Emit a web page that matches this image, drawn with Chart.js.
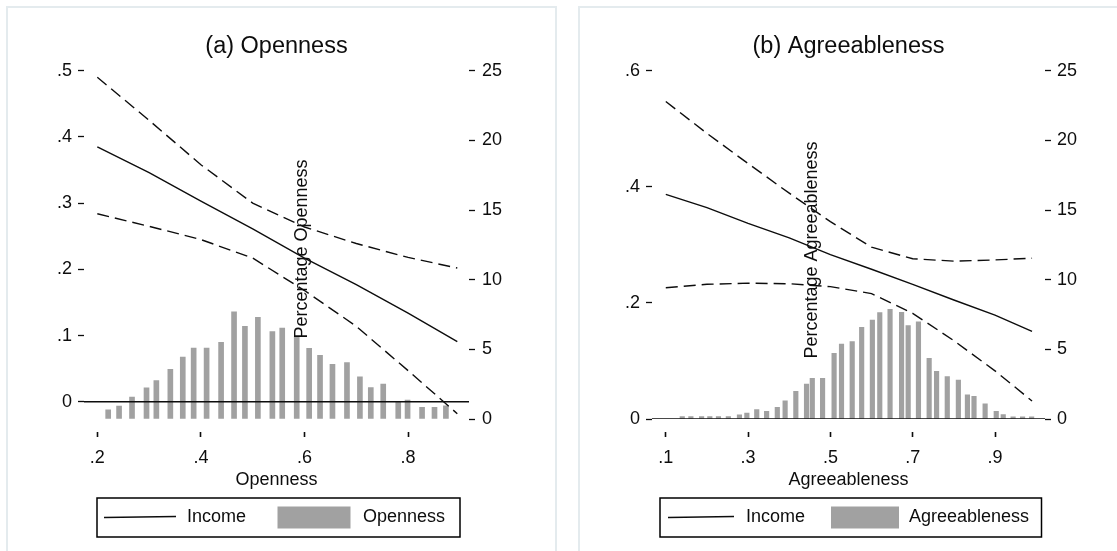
<!DOCTYPE html>
<html>
<head>
<meta charset="utf-8">
<script src="https://cdn.jsdelivr.net/npm/chart.js@4.4.1/dist/chart.umd.min.js"></script>
<style>
  html, body { margin: 0; padding: 0; background: #fff; overflow: hidden; }
  #page { position: relative; width: 1117px; height: 551px; overflow: hidden; }
  .panel { position: absolute; top: 6px; height: 600px; border: 2px solid #e4ebee; box-sizing: border-box; }
  canvas { position: absolute; top: 0; }
</style>
</head>
<body>
<div id="page">
  <div class="panel" style="left:6px;width:551px"></div>
  <div class="panel" style="left:578px;width:551px"></div>
  <canvas id="chartA" width="558" height="551" style="left:0"></canvas>
  <canvas id="chartB" width="559" height="551" style="left:558px"></canvas>
</div>
<script>
// (a) Openness: predicted income with confidence band, plus share of respondents
const openX = [0.2, 0.3, 0.4, 0.5, 0.6, 0.7, 0.8, 0.895];
const openIncome = [0.385, 0.346, 0.303, 0.261, 0.217, 0.177, 0.134, 0.091];
const openUpper = [0.490, 0.425, 0.358, 0.300, 0.264, 0.239, 0.218, 0.202];
const openLower = [0.284, 0.265, 0.245, 0.217, 0.168, 0.114, 0.047, -0.018];
const openBins = [0.221, 0.242, 0.267, 0.295, 0.314, 0.341, 0.365, 0.386, 0.411, 0.439,
  0.464, 0.485, 0.510, 0.538, 0.557, 0.585, 0.609, 0.630, 0.654, 0.682,
  0.707, 0.728, 0.752, 0.781, 0.799, 0.827, 0.851, 0.873];
const openPct = [0.66, 0.93, 1.57, 2.24, 2.76, 3.57, 4.45, 5.09, 5.09, 5.5,
  7.7, 6.66, 7.3, 6.28, 6.52, 5.9, 5.07, 4.57, 3.93, 4.05,
  3.02, 2.26, 2.5, 1.19, 1.36, 0.83, 0.83, 0.95];

// (b) Agreeableness
const agreeX = [0.1, 0.2, 0.3, 0.4, 0.5, 0.6, 0.7, 0.8, 0.9, 0.99];
const agreeIncome = [0.387, 0.364, 0.337, 0.312, 0.283, 0.258, 0.232, 0.205, 0.179, 0.151];
const agreeUpper = [0.547, 0.492, 0.440, 0.389, 0.340, 0.296, 0.276, 0.272, 0.274, 0.277];
const agreeLower = [0.226, 0.232, 0.234, 0.233, 0.228, 0.216, 0.182, 0.135, 0.083, 0.031];
const agreeBins = [0.140, 0.161, 0.187, 0.207, 0.228, 0.252, 0.279, 0.297, 0.321, 0.345,
  0.371, 0.390, 0.416, 0.442, 0.456, 0.481, 0.509, 0.527, 0.553, 0.576,
  0.602, 0.620, 0.645, 0.673, 0.689, 0.714, 0.740, 0.758, 0.784, 0.811,
  0.833, 0.849, 0.876, 0.903, 0.920, 0.944, 0.967, 0.989];
const agreePct = [0.17, 0.17, 0.17, 0.17, 0.17, 0.17, 0.3, 0.43, 0.67, 0.55,
  0.84, 1.31, 1.99, 2.51, 2.92, 2.92, 4.71, 5.38, 5.55, 6.58,
  7.1, 7.63, 7.87, 7.65, 6.7, 6.98, 4.35, 3.42, 3.04, 2.8,
  1.74, 1.63, 1.08, 0.55, 0.31, 0.15, 0.15, 0.15];

// tick labels
const openTicksX = [0.2, 0.4, 0.6, 0.8];
const openTicksY = [0, 0.1, 0.2, 0.3, 0.4, 0.5];
const agreeTicksX = [0.1, 0.3, 0.5, 0.7, 0.9];
const agreeTicksY = [0, 0.2, 0.4, 0.6];
const pctTicks = [0, 5, 10, 15, 20, 25];

const FONT = '"Liberation Sans", Arial, sans-serif';
const ink = '#0d0d0d';
const barGray = '#a1a1a1';

Chart.defaults.font.family = FONT;
Chart.defaults.font.size = 18;
Chart.defaults.color = ink;

function pts(xs, ys) {
  return xs.map((x, i) => ({ x: x, y: ys[i] }));
}

// stata style: .2 instead of 0.2
function dotNum(v) {
  if (v === 0) return '0';
  return String(+v.toFixed(2)).replace(/^0\./, '.');
}

// rotated axis title that stata drops in the middle of the plot
const sideTitle = {
  id: 'sideTitle',
  afterDatasetsDraw(chart, args, o) {
    const ctx = chart.ctx;
    ctx.save();
    ctx.translate(o.x, o.y);
    ctx.rotate(-Math.PI / 2);
    ctx.font = '18px ' + FONT;
    ctx.fillStyle = ink;
    ctx.textAlign = 'center';
    ctx.textBaseline = 'middle';
    ctx.fillText(o.text, 0, 0);
    ctx.restore();
  }
};

// boxed legend under the axis
const boxLegend = {
  id: 'boxLegend',
  afterDraw(chart, args, o) {
    const ctx = chart.ctx;
    const [bx, by, bw, bh] = o.box;
    const cy = by + bh / 2;
    ctx.save();
    ctx.strokeStyle = '#000';
    ctx.lineWidth = 1.5;
    ctx.strokeRect(bx, by, bw, bh);
    ctx.font = '18px ' + FONT;
    ctx.textBaseline = 'middle';
    ctx.fillStyle = ink;
    o.items.forEach(it => {
      const ds = chart.data.datasets[it.ds];
      if (ds.type === 'line') {
        ctx.strokeStyle = ds.borderColor;
        ctx.lineWidth = ds.borderWidth;
        ctx.beginPath();
        ctx.moveTo(it.x, cy);
        ctx.lineTo(it.x + it.w, cy - 1);
        ctx.stroke();
      } else {
        ctx.fillStyle = ds.backgroundColor;
        ctx.fillRect(it.x, cy - it.h / 2, it.w, it.h);
        ctx.fillStyle = ink;
      }
      ctx.fillText(ds.label, it.tx, cy);
    });
    ctx.restore();
  }
};

function lineSet(label, data, dash, order) {
  return {
    type: 'line', label: label, data: data, yAxisID: 'yL',
    borderColor: ink, borderWidth: 1.4, borderDash: dash,
    pointRadius: 0, tension: 0, fill: false, order: order
  };
}

function tickGrid(len) {
  return { display: true, drawOnChartArea: false, drawTicks: true, tickLength: len, tickWidth: 1.3, tickColor: ink };
}

function makeChart(id, p) {
  return new Chart(document.getElementById(id), {
    type: 'bar',
    data: {
      datasets: [
        { type: 'bar', label: p.name, data: pts(p.bins, p.pct), yAxisID: 'yR',
          backgroundColor: barGray, borderWidth: 0, barThickness: p.barW, order: 4 },
        lineSet('Income', pts(p.x, p.income), [], 1),
        lineSet('upper', pts(p.x, p.upper), [12, 6], 1),
        lineSet('lower', pts(p.x, p.lower), [12, 6], 1),
        lineSet('zero', [{ x: p.xMin, y: 0 }, { x: p.xMax, y: 0 }], [], 2)
      ]
    },
    options: {
      responsive: false,
      animation: false,
      events: [],
      layout: { padding: { left: 0, right: 0, top: 0, bottom: 52 } },
      plugins: {
        legend: { display: false },
        tooltip: { enabled: false },
        title: {
          display: true, text: p.title, fullSize: false, color: ink,
          font: { size: 23.5, weight: 'normal' },
          padding: { top: 32, bottom: 10.5 }
        },
        sideTitle: p.side,
        boxLegend: p.legend
      },
      scales: {
        x: {
          type: 'linear', position: 'bottom', min: p.xMin, max: p.xMax, offset: false,
          afterBuildTicks: s => { s.ticks = p.xTicks.map(v => ({ value: v })); },
          afterFit: s => { s.height = 80; },
          grid: Object.assign(tickGrid(18), { offset: false, tickWidth: 1.6, tickBorderDash: [0, 13, 5, 100] }),
          border: { display: false },
          ticks: { padding: 10, maxRotation: 0, autoSkip: false, callback: dotNum },
          title: { display: true, text: p.name, padding: { top: 0, bottom: 8.5 } }
        },
        yL: {
          type: 'linear', position: 'left', min: p.yMin, max: p.yMax,
          afterBuildTicks: s => { s.ticks = p.yTicks.map(v => ({ value: v })); },
          afterFit: s => { s.width = p.leftW; },
          grid: tickGrid(6),
          border: { display: false },
          ticks: { padding: 6, autoSkip: false, callback: dotNum }
        },
        yR: {
          type: 'linear', position: 'right', min: 0, max: 25,
          afterBuildTicks: s => { s.ticks = pctTicks.map(v => ({ value: v })); },
          afterFit: s => { s.width = p.rightW; },
          grid: tickGrid(6),
          border: { display: false },
          ticks: { padding: p.rightPad, autoSkip: false }
        }
      }
    },
    plugins: [sideTitle, boxLegend]
  });
}

makeChart('chartA', {
  name: 'Openness', title: '(a) Openness',
  x: openX, income: openIncome, upper: openUpper, lower: openLower,
  bins: openBins, pct: openPct, barW: 5,
  xMin: 0.1743, xMax: 0.9176, yMin: -0.026, yMax: 0.5,
  xTicks: openTicksX, yTicks: openTicksY,
  leftW: 84, rightW: 89, rightPad: 7,
  side: { text: 'Percentage Openness', x: 301.7, y: 249 },
  legend: {
    box: [97, 498, 363, 39],
    items: [{ ds: 1, x: 104, w: 72, tx: 187 }, { ds: 0, x: 277.5, w: 73, h: 22, tx: 363 }]
  }
});

makeChart('chartB', {
  name: 'Agreeableness', title: '(b) Agreeableness',
  x: agreeX, income: agreeIncome, upper: agreeUpper, lower: agreeLower,
  bins: agreeBins, pct: agreePct, barW: 4.5,
  xMin: 0.0665, xMax: 1.0215, yMin: 0, yMax: 0.6,
  xTicks: agreeTicksX, yTicks: agreeTicksY,
  leftW: 94, rightW: 72, rightPad: 6,
  side: { text: 'Percentage Agreeableness', x: 253.7, y: 250 },
  legend: {
    box: [102, 498, 381.5, 39],
    items: [{ ds: 1, x: 110, w: 66, tx: 188 }, { ds: 0, x: 273, w: 68, h: 22, tx: 351 }]
  }
});
</script>
</body>
</html>
